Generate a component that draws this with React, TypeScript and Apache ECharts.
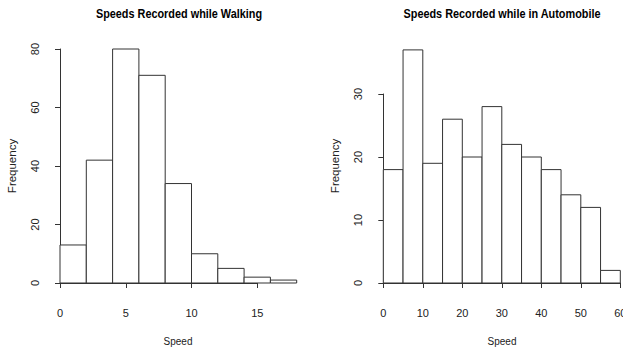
import React, { useEffect, useRef } from "react";
import * as echarts from "echarts";

const walkingBreaks = [0, 2, 4, 6, 8, 10, 12, 14, 16, 18];
const walkingCounts = [13, 42, 80, 71, 34, 10, 5, 2, 1];
const autoBreaks = [0, 5, 10, 15, 20, 25, 30, 35, 40, 45, 50, 55, 60];
const autoCounts = [18, 37, 19, 26, 20, 28, 22, 20, 18, 14, 12, 2];

const walkingTitle = "Speeds Recorded while Walking";
const autoTitle = "Speeds Recorded while in Automobile";
const xName = "Speed";
const yName = "Frequency";

const FONT = "'Liberation Sans', Arial, Helvetica, sans-serif";
const NARROW = "'Liberation Sans Narrow', 'Liberation Sans', Arial, sans-serif";
const INK = "#222";
const SX = 0.87;

function binData(breaks: number[], counts: number[]) {
  return counts.map((c, i) => [breaks[i], breaks[i + 1], c]);
}

function renderBin(params: any, api: any) {
  const x0 = api.value(0);
  const x1 = api.value(1);
  const c = api.value(2);
  const p0 = api.coord([x0, 0]);
  const p1 = api.coord([x1, c]);
  return {
    type: "rect",
    shape: { x: p0[0], y: p1[1], width: p1[0] - p0[0], height: p0[1] - p1[1] },
    style: { fill: "#fff", stroke: "#333", lineWidth: 1 },
  };
}

const shownX = (gridIndex: number, max: number, interval: number) => ({
  type: "value",
  gridIndex,
  min: 0,
  max,
  interval,
  offset: 9,
  splitLine: { show: false },
  axisLine: { show: true, lineStyle: { color: "#333", width: 1 } },
  axisTick: { show: true, length: 5, lineStyle: { color: "#333" } },
  axisLabel: { show: true, margin: 15, fontSize: 11, color: INK, fontFamily: NARROW },
});
const hiddenX = (gridIndex: number, max: number) => ({
  type: "value",
  gridIndex,
  min: 0,
  max,
  show: false,
  splitLine: { show: false },
});
const shownY = (gridIndex: number, max: number, interval: number) => ({
  type: "value",
  gridIndex,
  min: 0,
  max,
  interval,
  offset: 10,
  splitLine: { show: false },
  axisLine: { show: true, lineStyle: { color: "#333", width: 1 } },
  axisTick: { show: true, length: 5, lineStyle: { color: "#333" } },
  axisLabel: { show: true, rotate: 90, margin: 10, fontSize: 11, color: INK, fontFamily: FONT },
});
const hiddenY = (gridIndex: number, max: number) => ({
  type: "value",
  gridIndex,
  min: 0,
  max,
  show: false,
  splitLine: { show: false },
});

const hText = (x: number, y: number, text: string, size: number, bold: boolean) => ({
  type: "text",
  x,
  y,
  scaleX: SX,
  style: {
    text,
    fontSize: size,
    fontWeight: bold ? "bold" : "normal",
    fontFamily: FONT,
    fill: bold ? "#000" : INK,
    align: "center",
    verticalAlign: "middle",
  },
});
const vText = (x: number, y: number, text: string) => ({
  type: "text",
  x,
  y,
  rotation: Math.PI / 2,
  scaleY: SX,
  style: { text, fontSize: 11.5, fontFamily: FONT, fill: INK, align: "center", verticalAlign: "middle" },
});

export default function App() {
  const ref = useRef<HTMLDivElement>(null);
  useEffect(() => {
    document.body.style.margin = "0";
    if (!ref.current) return;
    const chart = echarts.init(ref.current, null, { renderer: "svg" });
    const y0 = 283;
    const lpx = 2.925;
    const rpx = 6.3;
    const g = { outerBoundsMode: "none", containLabel: false };
    chart.setOption({
      animation: false,
      backgroundColor: "#fff",
      grid: [
        { ...g, left: 60, top: y0 - 80 * lpx, width: 18 * 13.15, height: 80 * lpx },
        { ...g, left: 60, top: y0 - 80 * lpx, width: 15 * 13.15, height: 80 * lpx },
        { ...g, left: 383.3, top: y0 - 40 * rpx, width: 237, height: 40 * rpx },
        { ...g, left: 383.3, top: y0 - 30 * rpx, width: 237, height: 30 * rpx },
      ],
      xAxis: [hiddenX(0, 18), shownX(1, 15, 5), shownX(2, 60, 10), hiddenX(3, 60)],
      yAxis: [shownY(0, 80, 20), hiddenY(1, 80), hiddenY(2, 40), shownY(3, 30, 10)],
      series: [
        {
          type: "custom",
          xAxisIndex: 0,
          yAxisIndex: 0,
          data: binData(walkingBreaks, walkingCounts),
          renderItem: renderBin,
          encode: { x: [0, 1], y: 2 },
        },
        {
          type: "custom",
          xAxisIndex: 2,
          yAxisIndex: 2,
          data: binData(autoBreaks, autoCounts),
          renderItem: renderBin,
          encode: { x: [0, 1], y: 2 },
        },
      ],
      graphic: [
        hText(179, 13, walkingTitle, 12.5, true),
        hText(502, 13, autoTitle, 12.5, true),
        hText(178, 341, xName, 11.5, false),
        hText(502, 341, xName, 11.5, false),
        vText(12, 166, yName),
        vText(335, 166, yName),
      ],
    });
    return () => chart.dispose();
  }, []);
  return <div ref={ref} style={{ width: 623, height: 349 }} />;
}
